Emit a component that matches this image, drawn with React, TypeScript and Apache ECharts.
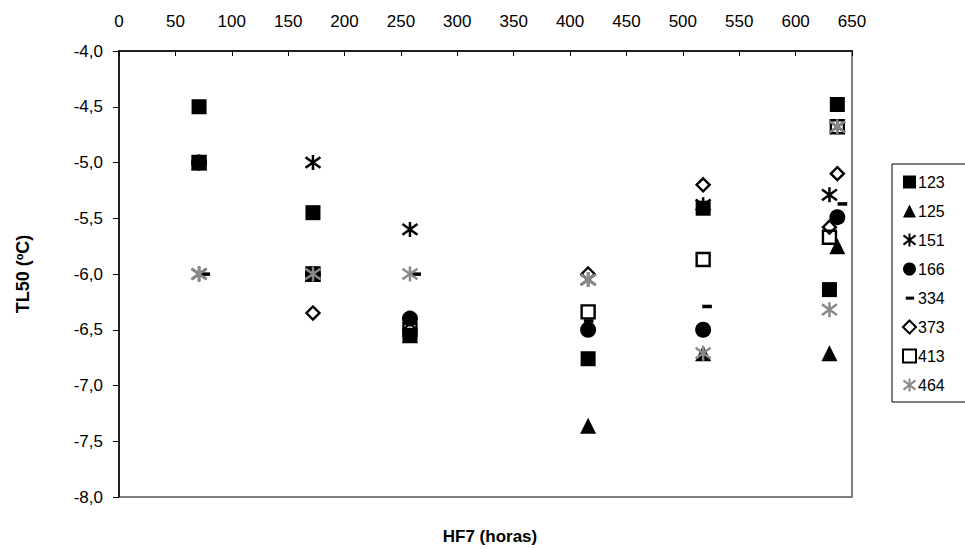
import React, { useEffect, useRef } from "react";
import * as echarts from "echarts";

// ---- data ----
const seriesNames = ["123", "125", "151", "166", "334", "373", "413", "464"];
const xTicks = { min: 0, max: 650, interval: 50 };
const yTicks = { min: -8, max: -4, interval: 0.5 };

const s123 = [[71, -4.5], [172, -5.45], [258, -6.55], [416, -6.76], [518, -5.41], [637, -4.48], [630, -6.14]];
const s125 = [[71, -5.0], [172, -6.0], [258, -6.55], [416, -7.36], [518, -6.71], [637, -5.75], [630, -6.71]];
const s151 = [[71, -6.0], [172, -5.0], [258, -5.6], [416, -6.05], [518, -5.38], [637, -4.68], [630, -5.29]];
const s166 = [[71, -5.0], [172, -6.0], [258, -6.4], [416, -6.5], [518, -6.5], [637, -5.49]];
const s334 = [[76, -6.0], [172, -6.0], [263, -6.0], [416, -6.42], [521, -6.29], [641, -5.37]];
const s373 = [[71, -5.0], [172, -6.35], [258, -6.5], [416, -6.0], [518, -5.2], [637, -5.1], [630, -5.58]];
const s413 = [[71, -5.0], [172, -6.0], [258, -6.5], [416, -6.34], [518, -5.87], [637, -4.68], [630, -5.67]];
const s464 = [[71, -6.0], [172, -6.0], [258, -6.0], [416, -6.05], [518, -6.71], [637, -4.68], [630, -6.32]];
const seriesData = [s123, s125, s151, s166, s334, s373, s413, s464];

const xTitle = "HF7 (horas)";
const yTitle = "TL50 (ºC)";

// ---- styles ----
const FONT = "'Liberation Sans', Arial, sans-serif";
const STAR = "path://M7,0L7,14M0.5,2L13.5,12M0.5,12L13.5,2";
const DASH = "path://M0,0M14,14M3,5.5L12,5.5L12,8.8L3,8.8Z";

const styles: any[] = [
  { symbol: "rect", symbolSize: 15, itemStyle: { color: "#000", opacity: 1 } },
  { symbol: "triangle", symbolSize: 16, itemStyle: { color: "#000", opacity: 1 } },
  { symbol: STAR, symbolSize: 15, itemStyle: { color: "rgba(0,0,0,0)", borderColor: "#000", borderWidth: 2.5, opacity: 1 } },
  { symbol: "circle", symbolSize: 16, itemStyle: { color: "#000", opacity: 1 } },
  { symbol: DASH, symbolSize: 15, itemStyle: { color: "#000", opacity: 1 } },
  { symbol: "diamond", symbolSize: [13, 13], itemStyle: { color: "rgba(255,255,255,0)", borderColor: "#000", borderWidth: 2.4, opacity: 1 } },
  { symbol: "rect", symbolSize: 13, itemStyle: { color: "rgba(255,255,255,0)", borderColor: "#000", borderWidth: 2.4, opacity: 1 } },
  { symbol: STAR, symbolSize: 15, itemStyle: { color: "rgba(0,0,0,0)", borderColor: "#8a8a8a", borderWidth: 2.5, opacity: 1 } },
];

export default function App() {
  const ref = useRef<HTMLDivElement>(null);
  useEffect(() => {
    if (!ref.current) return;
    const chart = echarts.init(ref.current, undefined, { renderer: "svg" });
    const fmt = (v: number) => v.toFixed(1).replace(".", ",");
    chart.setOption({
      animation: false,
      backgroundColor: "#fff",
      textStyle: { fontFamily: FONT },
      title: {
        text: xTitle,
        left: 485,
        top: 523,
        textAlign: "center",
        textStyle: { fontFamily: FONT, fontSize: 17, fontWeight: "bold", color: "#000" },
      },
      grid: {
        left: 119, top: 51, width: 733, height: 446,
        show: true, borderColor: "#808080", borderWidth: 2, backgroundColor: "#fff",
      },
      legend: {
        orient: "vertical",
        left: 892,
        top: 164,
        padding: [10, 30, 9, 10],
        itemGap: 13,
        itemWidth: 13,
        itemHeight: 13,
        borderColor: "#000",
        borderWidth: 1,
        backgroundColor: "#fff",
        textStyle: { fontFamily: FONT, fontSize: 16, color: "#000", padding: [0, 0, 0, -3] },
        data: seriesNames,
      },
      xAxis: {
        type: "value",
        position: "top",
        min: xTicks.min, max: xTicks.max, interval: xTicks.interval,
        axisLine: { show: true, lineStyle: { color: "#000", width: 1.5 } },
        axisTick: { show: true, inside: true, length: 5, lineStyle: { color: "#000" } },
        axisLabel: { fontFamily: FONT, fontSize: 17, color: "#000", margin: 21 },
        splitLine: { show: false },
      },
      yAxis: {
        type: "value",
        min: yTicks.min, max: yTicks.max, interval: yTicks.interval,
        name: yTitle,
        nameLocation: "middle",
        nameRotate: 90,
        nameGap: 87,
        nameTextStyle: { fontFamily: FONT, fontSize: 18, fontWeight: "bold", color: "#000" },
        axisLine: { show: true, lineStyle: { color: "#000", width: 1.5 } },
        axisTick: { show: true, inside: false, length: 6, lineStyle: { color: "#000" } },
        axisLabel: { fontFamily: FONT, fontSize: 17, color: "#000", margin: 16, formatter: fmt },
        splitLine: { show: false },
      },
      series: seriesNames.map((name, i) => ({
        name,
        type: "scatter",
        data: seriesData[i],
        symbol: styles[i].symbol,
        symbolSize: styles[i].symbolSize,
        itemStyle: styles[i].itemStyle,
        emphasis: { disabled: true },
      })),
    });
    return () => chart.dispose();
  }, []);
  return (
    <div
      ref={ref}
      style={{ position: "fixed", left: 0, top: 0, width: 965, height: 549 }}
    />
  );
}
